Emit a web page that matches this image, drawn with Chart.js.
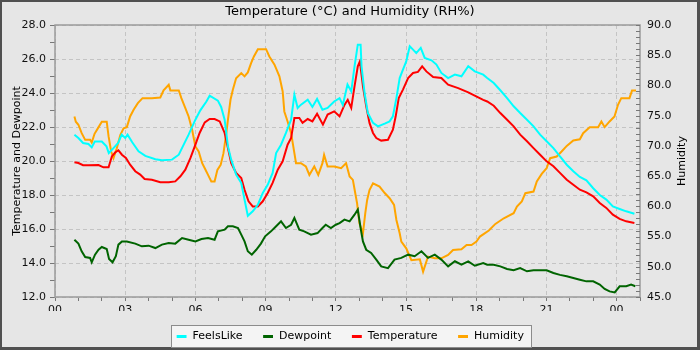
<!DOCTYPE html>
<html>
<head>
<meta charset="utf-8">
<script src="https://cdn.jsdelivr.net/npm/chart.js@4"></script>
<style>
  html, body { margin: 0; padding: 0; background: #e6e6e6; }
  #wrap { width: 700px; height: 350px; }
</style>
</head>
<body>
<div id="wrap"><canvas id="chart" width="700" height="350"></canvas></div>
<script>
// times are hours since the first midnight (24 = next midnight)
const feelsHours = [0.83, 1.0, 1.2, 1.43, 1.57, 1.7, 2.0, 2.2, 2.3, 2.5, 2.7, 2.85, 3.0, 3.1, 3.3, 3.57, 3.86, 4.29, 4.57, 5.0,
  5.29, 5.5, 5.71, 6.0, 6.21, 6.47, 6.61, 6.96, 7.1, 7.25, 7.39, 7.53, 7.74, 7.96, 8.1, 8.24, 8.45, 8.67, 8.88, 9.09,
  9.3, 9.45, 9.66, 9.87, 10.09, 10.23, 10.37, 10.5, 10.8, 11.0, 11.2, 11.43, 11.65, 11.93, 12.16, 12.3, 12.5, 12.66, 12.8, 12.94,
  13.06, 13.1, 13.23, 13.37, 13.59, 13.8, 14.09, 14.3, 14.44, 14.59, 14.73, 14.87, 15.01, 15.16, 15.3, 15.44, 15.63, 15.8, 16.09, 16.3,
  16.51, 16.8, 17.09, 17.37, 17.66, 17.94, 18.3, 18.47, 18.75, 19.03, 19.32, 19.6, 19.88, 20.17, 20.45, 20.73, 21.01, 21.3, 21.58, 21.87,
  22.15, 22.43, 22.71, 23.0, 23.28, 23.56, 23.84, 24.13, 24.41, 24.76];
const feelsLike = [21.55, 21.35, 21.06, 21.0, 20.8, 21.15, 21.15, 20.86, 20.47, 20.76, 21.06, 21.55, 21.35, 21.55, 21.1, 20.57, 20.3, 20.1, 20.04, 20.08,
  20.37, 20.96, 21.55, 22.43, 22.98, 23.5, 23.84, 23.55, 23.18, 22.43, 20.86, 20.08, 19.2, 18.7, 17.73, 16.78, 17.04, 17.43, 18.12, 18.6,
  19.3, 20.47, 20.96, 21.65, 22.43, 23.9, 23.12, 23.3, 23.6, 23.18, 23.65, 23.02, 23.12, 23.5, 23.7, 23.3, 24.5, 24.1, 25.57, 26.84,
  26.84, 25.57, 24.0, 22.82, 22.24, 22.04, 22.2, 22.33, 22.63, 23.7, 24.88, 25.37, 25.86, 26.75, 26.55, 26.35, 26.65, 26.06, 25.92, 25.67,
  25.18, 24.88, 25.08, 24.98, 25.57, 25.27, 25.08, 24.88, 24.59, 24.16, 23.7, 23.22, 22.82, 22.43, 22.04, 21.55, 21.16, 20.76, 20.27, 19.78,
  19.4, 19.06, 18.86, 18.4, 18.0, 17.73, 17.33, 17.18, 17.04, 16.9];

const dewHours = [0.83, 1.0, 1.14, 1.29, 1.5, 1.57, 1.71, 1.86, 2.0, 2.21, 2.31, 2.46, 2.6, 2.71, 2.86, 3.07, 3.43, 3.71, 4.0, 4.29,
  4.57, 4.86, 5.14, 5.43, 5.71, 6.0, 6.26, 6.54, 6.82, 6.96, 7.25, 7.39, 7.6, 7.82, 7.96, 8.1, 8.24, 8.41, 8.6, 8.8,
  8.98, 9.23, 9.45, 9.66, 9.87, 10.09, 10.23, 10.44, 10.65, 10.94, 11.22, 11.43, 11.57, 11.79, 12.0, 12.16, 12.37, 12.59, 12.8, 12.94,
  13.06, 13.16, 13.3, 13.51, 13.73, 13.94, 14.23, 14.51, 14.8, 15.09, 15.37, 15.66, 15.94, 16.23, 16.51, 16.8, 17.09, 17.37, 17.66, 17.94,
  18.3, 18.47, 18.75, 19.03, 19.32, 19.6, 19.88, 20.17, 20.45, 20.73, 21.01, 21.3, 21.58, 21.87, 22.15, 22.43, 22.71, 23.0, 23.28, 23.49,
  23.7, 23.92, 24.13, 24.41, 24.62, 24.8];
const dewpoint = [15.37, 15.14, 14.69, 14.35, 14.3, 14.04, 14.49, 14.78, 14.94, 14.82, 14.24, 14.04, 14.4, 15.08, 15.27, 15.27, 15.14, 14.98, 15.02, 14.88,
  15.08, 15.18, 15.14, 15.47, 15.37, 15.27, 15.41, 15.47, 15.37, 15.86, 15.96, 16.16, 16.16, 16.06, 15.67, 15.27, 14.69, 14.49, 14.78, 15.14,
  15.57, 15.86, 16.16, 16.45, 16.06, 16.25, 16.65, 15.96, 15.86, 15.67, 15.76, 16.06, 16.25, 16.06, 16.25, 16.35, 16.55, 16.45, 16.84, 17.14,
  16.06, 15.27, 14.78, 14.59, 14.2, 13.8, 13.7, 14.2, 14.3, 14.49, 14.4, 14.69, 14.3, 14.49, 14.2, 13.8, 14.1, 13.9, 14.1, 13.84,
  14.0, 13.9, 13.9, 13.8, 13.65, 13.57, 13.7, 13.51, 13.57, 13.57, 13.57, 13.41, 13.3, 13.22, 13.12, 13.02, 12.92, 12.92, 12.73, 12.47,
  12.33, 12.27, 12.63, 12.63, 12.73, 12.63];

const tempHours = [0.83, 1.0, 1.2, 1.43, 1.86, 2.07, 2.29, 2.43, 2.57, 2.71, 2.86, 3.03, 3.21, 3.43, 3.64, 3.83, 4.14, 4.5, 4.86, 5.14,
  5.36, 5.57, 5.79, 6.0, 6.18, 6.4, 6.61, 6.82, 7.04, 7.25, 7.39, 7.53, 7.74, 7.96, 8.1, 8.27, 8.45, 8.67, 8.88, 9.09,
  9.3, 9.52, 9.73, 9.94, 10.09, 10.23, 10.44, 10.58, 10.8, 11.0, 11.2, 11.45, 11.65, 11.93, 12.16, 12.37, 12.51, 12.66, 12.8, 12.94,
  13.03, 13.16, 13.3, 13.44, 13.59, 13.73, 13.94, 14.23, 14.44, 14.56, 14.69, 14.87, 15.09, 15.3, 15.51, 15.69, 15.87, 16.16, 16.51, 16.8,
  17.23, 17.66, 18.0, 18.3, 18.47, 18.75, 19.03, 19.32, 19.6, 19.88, 20.17, 20.45, 20.73, 21.01, 21.3, 21.58, 21.87, 22.15, 22.43, 22.71,
  23.0, 23.28, 23.56, 23.84, 24.13, 24.41, 24.76];
const temperature = [19.92, 19.88, 19.75, 19.75, 19.76, 19.63, 19.63, 20.27, 20.5, 20.63, 20.37, 20.18, 19.78, 19.4, 19.2, 18.94, 18.9, 18.75, 18.75, 18.8,
  19.1, 19.49, 20.18, 20.96, 21.65, 22.27, 22.47, 22.47, 22.33, 21.65, 20.76, 19.88, 19.3, 19.0, 18.31, 17.63, 17.33, 17.33, 17.63, 18.12,
  18.71, 19.49, 19.98, 20.96, 21.35, 22.53, 22.53, 22.24, 22.47, 22.33, 22.78, 22.14, 22.73, 22.92, 22.63, 23.3, 23.6, 23.12, 24.39, 25.57,
  25.86, 24.39, 23.22, 22.24, 21.65, 21.35, 21.2, 21.25, 21.84, 22.63, 23.7, 24.2, 24.88, 25.18, 25.24, 25.57, 25.27, 24.94, 24.88, 24.49,
  24.29, 24.04, 23.8, 23.6, 23.5, 23.25, 22.82, 22.43, 22.04, 21.55, 21.16, 20.76, 20.37, 19.98, 19.69, 19.3, 18.9, 18.6, 18.31, 18.16,
  17.92, 17.53, 17.24, 16.84, 16.59, 16.45, 16.35];

const humHours = [0.83, 0.89, 1.0, 1.14, 1.29, 1.5, 1.57, 1.69, 1.83, 2.0, 2.21, 2.29, 2.4, 2.5, 2.64, 2.79, 2.93, 3.07, 3.21, 3.36,
  3.54, 3.74, 4.14, 4.5, 4.64, 4.86, 4.93, 5.29, 5.4, 5.57, 5.71, 5.86, 6.0, 6.14, 6.29, 6.4, 6.54, 6.68, 6.82, 6.94,
  7.08, 7.2, 7.32, 7.39, 7.5, 7.6, 7.74, 7.96, 8.1, 8.24, 8.38, 8.5, 8.67, 9.02, 9.16, 9.38, 9.59, 9.73, 9.8, 9.94,
  10.09, 10.23, 10.3, 10.51, 10.72, 10.87, 11.08, 11.25, 11.43, 11.5, 11.65, 11.93, 12.23, 12.44, 12.59, 12.73, 12.83, 12.91, 13.01, 13.16,
  13.26, 13.34, 13.44, 13.59, 13.87, 14.09, 14.3, 14.49, 14.59, 14.73, 14.8, 15.01, 15.23, 15.59, 15.73, 15.94, 16.23, 16.51, 16.8, 17.01,
  17.37, 17.59, 17.8, 18.01, 18.16, 18.54, 18.82, 19.18, 19.6, 19.74, 19.95, 20.1, 20.45, 20.59, 20.8, 21.01, 21.16, 21.44, 21.65, 21.87,
  22.15, 22.43, 22.57, 22.85, 23.21, 23.35, 23.49, 23.7, 23.91, 24.06, 24.2, 24.55, 24.66, 24.83];
const humidity = [74.87, 74.0, 73.5, 72.1, 71.0, 71.0, 70.56, 72.0, 72.9, 74.0, 74.0, 71.56, 69.07, 67.97, 69.6, 71.8, 72.9, 73.1, 74.87, 75.97,
  77.08, 77.9, 77.9, 78.0, 79.18, 80.1, 79.18, 79.18, 77.9, 76.25, 74.87, 72.66, 69.9, 69.07, 67.14, 66.3, 65.2, 64.1, 64.1, 66.03,
  66.86, 68.8, 72.1, 74.3, 77.63, 79.29, 81.2, 82.05, 81.5, 82.16, 83.7, 84.8, 86.0, 86.0, 84.8, 83.43, 81.5, 79.0, 75.7, 74.04,
  72.1, 68.8, 67.14, 67.14, 66.6, 65.2, 66.6, 65.2, 67.14, 68.5, 66.6, 66.6, 66.3, 67.14, 64.93, 64.38, 62.2, 60.5, 57.2, 55.54,
  58.86, 61.06, 62.7, 63.8, 63.27, 62.2, 61.34, 60.24, 57.75, 55.54, 54.16, 53.06, 51.1, 51.24, 49.2, 51.68, 51.4, 51.4, 51.95, 52.78,
  52.9, 53.6, 53.6, 54.16, 55.0, 55.99, 57.09, 58.03, 58.86, 59.96, 60.8, 62.17, 62.45, 64.1, 65.37, 66.3, 67.97, 68.24, 69.07, 70.0,
  70.9, 71.1, 72.1, 73.1, 73.1, 74.04, 73.1, 74.04, 74.87, 76.8, 77.9, 77.9, 79.18, 79.18];

const seriesNames = ['FeelsLike', 'Dewpoint', 'Temperature', 'Humidity'];

// Function to pair up hours and values for the linear x scale
function toPoints(hours, values) {
  return hours.map((h, i) => ({ x: h, y: values[i] }));
}

Chart.defaults.font.family = '"DejaVu Sans", sans-serif';
Chart.defaults.font.size = 11;
Chart.defaults.color = '#111';

const gridColor = '#c4c4c4';
const tickColor = '#777';

// background, frame, legend box, inward humidity ticks and right title
const decorations = {
  id: 'decorations',
  beforeDraw(chart) {
    const ctx = chart.ctx;
    ctx.save();
    ctx.fillStyle = '#505050';
    ctx.fillRect(0, 0, chart.width, chart.height);
    ctx.fillStyle = '#e6e6e6';
    ctx.fillRect(2, 2, chart.width - 5, chart.height - 5);
    const boxes = chart.legend.legendHitBoxes;
    if (boxes && boxes.length) {
      const left = Math.round(Math.min(...boxes.map(b => b.left))) - 5;
      const right = Math.round(Math.max(...boxes.map(b => b.left + b.width))) + 7;
      ctx.fillStyle = '#f4f4f4';
      ctx.fillRect(left, 325, right - left, 22);
      ctx.strokeStyle = '#8c8c8c';
      ctx.lineWidth = 1;
      ctx.strokeRect(left + 0.5, 325.5, right - left, 22);
    }
    ctx.restore();
  },
  beforeDatasetsDraw(chart) {
    const { ctx, chartArea: a } = chart;
    ctx.save();
    ctx.strokeStyle = '#9a9a9a';
    ctx.lineWidth = 1.5;
    ctx.strokeRect(a.left, a.top, a.right - a.left, a.bottom - a.top);
    const y2 = chart.scales.y2;
    ctx.strokeStyle = tickColor;
    ctx.lineWidth = 1;
    ctx.beginPath();
    y2.ticks.forEach(t => {
      const y = Math.round(y2.getPixelForValue(t.value)) + 0.5;
      ctx.moveTo(a.right - 4, y);
      ctx.lineTo(a.right, y);
    });
    ctx.stroke();
    ctx.translate(682, (a.top + a.bottom) / 2);
    ctx.rotate(-Math.PI / 2);
    ctx.font = '11px "DejaVu Sans"';
    ctx.fillStyle = '#000';
    ctx.textAlign = 'center';
    ctx.textBaseline = 'middle';
    ctx.fillText('Humidity', 0, 0);
    ctx.restore();
  }
};

let chart = new Chart(document.getElementById('chart').getContext('2d'), {
  type: 'line',
  data: {
    datasets: [
      { label: seriesNames[0], data: toPoints(feelsHours, feelsLike), borderColor: '#00ffff', backgroundColor: '#00ffff', yAxisID: 'y' },
      { label: seriesNames[1], data: toPoints(dewHours, dewpoint), borderColor: '#006400', backgroundColor: '#006400', yAxisID: 'y' },
      { label: seriesNames[2], data: toPoints(tempHours, temperature), borderColor: '#ff0000', backgroundColor: '#ff0000', yAxisID: 'y' },
      { label: seriesNames[3], data: toPoints(humHours, humidity), borderColor: '#ffa500', backgroundColor: '#ffa500', yAxisID: 'y2' }
    ]
  },
  options: {
    responsive: false,
    animation: false,
    layout: { padding: { left: 0, right: 0, top: 0, bottom: -2 } },
    elements: {
      point: { radius: 0 },
      line: { borderWidth: 2, tension: 0, fill: false }
    },
    plugins: {
      title: {
        display: true,
        text: 'Temperature (°C) and Humidity (RH%)',
        color: '#000',
        font: { size: 13, weight: 'normal' },
        padding: { top: 4, bottom: 5.4 }
      },
      legend: {
        position: 'bottom',
        labels: {
          color: '#000',
          usePointStyle: true,
          pointStyle: 'line',
          boxHeight: 7,
          padding: 20,
          font: { size: 11 },
          generateLabels: (c) => Chart.defaults.plugins.legend.labels.generateLabels(c)
            .map(l => ({ ...l, lineWidth: 3 }))
        }
      },
      tooltip: { enabled: false }
    },
    scales: {
      x: {
        type: 'linear',
        min: 0,
        max: 25,
        afterFit: (s) => { s.height = 14; },
        border: { display: false, dash: [4, 3] },
        grid: {
          color: (c) => (c.tick && c.tick.value % 3 === 0) ? gridColor : 'rgba(0,0,0,0)',
          tickColor: tickColor,
          tickLength: 4
        },
        ticks: {
          stepSize: 1,
          autoSkip: false,
          maxRotation: 0,
          padding: 3,
          callback: (v) => v % 3 === 0 ? String(v % 24).padStart(2, '0') : ''
        }
      },
      y: {
        position: 'left',
        min: 12,
        max: 28,
        afterFit: (s) => { s.width = 55; },
        border: { display: false, dash: [4, 3] },
        grid: {
          color: (c) => (c.tick && c.tick.value % 2 === 0) ? gridColor : 'rgba(0,0,0,0)',
          tickColor: tickColor,
          tickLength: 5
        },
        ticks: {
          stepSize: 1,
          autoSkip: false,
          padding: 4,
          callback: (v) => v % 2 === 0 ? v.toFixed(1) : ''
        },
        title: {
          display: true,
          text: 'Temperature and Dewpoint',
          color: '#000',
          font: { size: 11 },
          padding: { top: 10.4, bottom: 0 }
        }
      },
      y2: {
        position: 'right',
        min: 45,
        max: 90,
        afterFit: (s) => { s.width = 60; },
        border: { display: false },
        grid: { drawOnChartArea: false, drawTicks: false },
        ticks: {
          stepSize: 1,
          autoSkip: false,
          padding: 7,
          callback: (v) => v % 5 === 0 ? v.toFixed(1) : ''
        }
      }
    }
  },
  plugins: [decorations]
});
</script>
</body>
</html>
